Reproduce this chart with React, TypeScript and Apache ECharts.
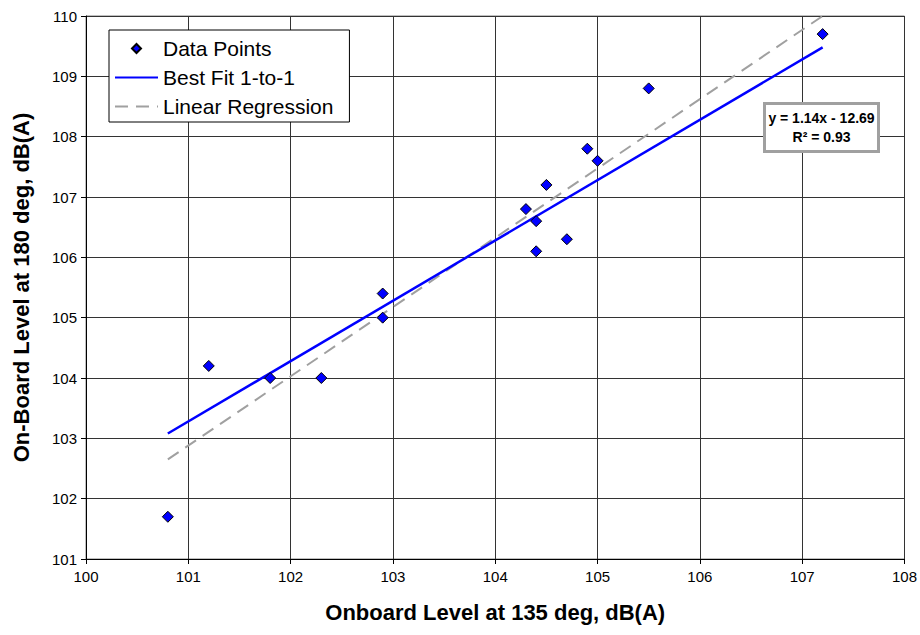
import React, { useEffect, useRef } from "react";
import * as echarts from "echarts";

const xValues = [100.8, 101.2, 101.8, 102.3, 102.9, 102.9, 104.3, 104.4, 104.4, 104.5, 104.7, 104.9, 105.0, 105.5, 107.2];
const yValues = [101.7, 104.2, 104.0, 104.0, 105.4, 105.0, 106.8, 106.6, 106.1, 107.2, 106.3, 107.8, 107.6, 108.8, 109.7];
const fitX = [100.8, 107.2];
const fitY = [103.08, 109.48];
const regX = [100.8, 107.2];
const regY = [102.65, 110.0];
const seriesNames = ["Data Points", "Best Fit 1-to-1", "Linear Regression"];
const xTitle = "Onboard Level at 135 deg, dB(A)";
const yTitle = "On-Board Level at 180 deg, dB(A)";
const equationText = "y = 1.14x - 12.69";
const r2Text = "R\u00B2 = 0.93";

const FONT = "'Liberation Sans', Arial, sans-serif";
const DIAMOND_ICON = "path://M0,0 M43,10 M17,5 L21.5,0.5 L26,5 L21.5,9.5 Z";

export default function App() {
  const ref = useRef<HTMLDivElement>(null);
  useEffect(() => {
    if (!ref.current) return;
    const chart = echarts.init(ref.current, null, { renderer: "svg" });
    const pts = xValues.map((x, i) => [x, yValues[i]]);
    const fit = fitX.map((x, i) => [x, fitY[i]]);
    const reg = regX.map((x, i) => [x, regY[i]]);
    const axisCommon = {
      axisLine: { show: true, lineStyle: { color: "#000", width: 1 } },
      axisTick: { show: true, inside: false, length: 5, lineStyle: { color: "#000" } },
      splitLine: { show: true, lineStyle: { color: "#333", width: 1 } },
      axisLabel: { color: "#000", fontSize: 15, fontFamily: FONT },
      nameLocation: "middle" as const,
      nameTextStyle: { color: "#000", fontSize: 22, fontWeight: "bold" as const, fontFamily: FONT },
    };
    chart.setOption({
      animation: false,
      backgroundColor: "#fff",
      grid: {
        left: 86,
        right: 14,
        top: 16,
        bottom: 76,
        show: true,
        borderColor: "#808080",
        borderWidth: 1,
        backgroundColor: "transparent",
      },
      xAxis: {
        type: "value",
        min: 100,
        max: 108,
        interval: 1,
        name: xTitle,
        nameGap: 42,
        ...axisCommon,
        axisLabel: { ...axisCommon.axisLabel, margin: 10 },
      },
      yAxis: {
        type: "value",
        min: 101,
        max: 110,
        interval: 1,
        name: yTitle,
        nameGap: 54,
        ...axisCommon,
        axisLabel: { ...axisCommon.axisLabel, margin: 9 },
      },
      legend: {
        show: true,
        orient: "vertical",
        left: 109,
        top: 30,
        backgroundColor: "#fff",
        borderColor: "#000",
        borderWidth: 1,
        borderRadius: 0,
        padding: [8, 16, 5, 5],
        itemWidth: 43,
        itemHeight: 10,
        itemGap: 8,
        symbolKeepAspect: true,
        textStyle: { color: "#000", fontSize: 21, fontFamily: FONT },
        data: [
          { name: seriesNames[0], icon: DIAMOND_ICON },
          { name: seriesNames[1], itemStyle: { opacity: 0 } },
          { name: seriesNames[2], itemStyle: { opacity: 0 } },
        ],
      },
      series: [
        {
          name: seriesNames[2],
          type: "line",
          data: reg,
          symbol: "none",
          z: 2,
          lineStyle: { color: "#A0A0A0", width: 2, type: [13, 8] },
          itemStyle: { color: "#A0A0A0" },
        },
        {
          name: seriesNames[1],
          type: "line",
          data: fit,
          symbol: "none",
          z: 3,
          lineStyle: { color: "#0000FF", width: 2.5 },
          itemStyle: { color: "#0000FF" },
        },
        {
          name: seriesNames[0],
          type: "scatter",
          data: pts,
          symbol: "diamond",
          symbolSize: 11,
          z: 5,
          itemStyle: { color: "#0000FF", borderColor: "#000", borderWidth: 1, opacity: 1 },
        },
      ],
      graphic: [
        {
          type: "group",
          left: 763,
          top: 102,
          z: 100,
          children: [
            {
              type: "rect",
              z: 100,
              shape: { x: 1.5, y: 1.5, width: 114, height: 48 },
              style: { fill: "#fff", stroke: "#A0A0A0", lineWidth: 3 },
            },
            {
              type: "text",
              z: 101,
              x: 58.5,
              y: 16,
              style: {
                text: equationText,
                fontSize: 14,
                fontWeight: "bold",
                fontFamily: FONT,
                fill: "#000",
                align: "center",
                verticalAlign: "middle",
              },
            },
            {
              type: "text",
              z: 101,
              x: 58.5,
              y: 35,
              style: {
                text: r2Text,
                fontSize: 14,
                fontWeight: "bold",
                fontFamily: FONT,
                fill: "#000",
                align: "center",
                verticalAlign: "middle",
              },
            },
          ],
        },
      ],
    });
    return () => chart.dispose();
  }, []);
  return (
    <div
      ref={ref}
      style={{ position: "fixed", left: 0, top: 0, width: 920, height: 635, background: "#fff" }}
    />
  );
}
